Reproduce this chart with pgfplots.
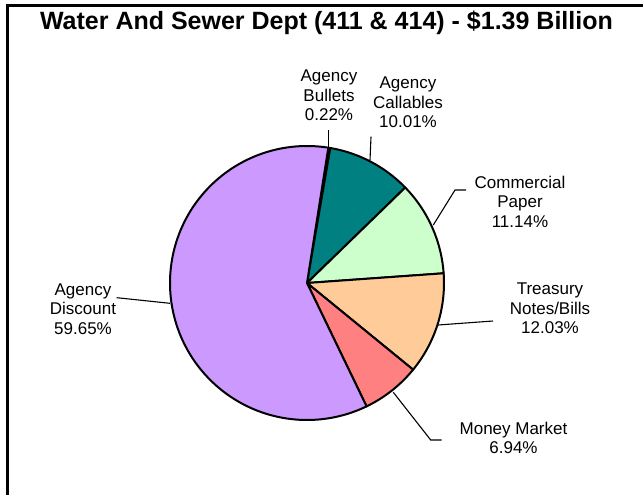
\documentclass[border=0pt]{standalone}
\usepackage{pgfplots}
\pgfplotsset{compat=1.18}
\usepackage{fontspec}
\setmainfont{Liberation Sans}
\definecolor{cDisc}{HTML}{CC99FF}
\definecolor{cCall}{HTML}{008080}
\definecolor{cCP}{HTML}{CCFFCC}
\definecolor{cTreas}{HTML}{FFCC99}
\definecolor{cMM}{HTML}{FF8080}
\definecolor{cBul}{HTML}{000080}
% shares in percent
\def\pBul{0.22}
\def\pCall{10.01}
\def\pCP{11.14}
\def\pTreas{12.03}
\def\pMM{6.94}
\def\pDisc{59.65}
\def\startangle{81}
\begin{document}
\begin{tikzpicture}
\pgfmathsetmacro{\aA}{\startangle}
\pgfmathsetmacro{\aB}{\aA-3.6*\pBul}
\pgfmathsetmacro{\aC}{\aB-3.6*\pCall}
\pgfmathsetmacro{\aD}{\aC-3.6*\pCP}
\pgfmathsetmacro{\aE}{\aD-3.6*\pTreas}
\pgfmathsetmacro{\aF}{\aE-3.6*\pMM}
\pgfmathsetmacro{\aG}{\aF-3.6*\pDisc}
\path[use as bounding box] (0,0) rectangle (643pt,-495pt);
\draw[line width=2.7pt] (643pt,-5.3pt) -- (7.5pt,-5.3pt) -- (7.5pt,-495pt);
\node[anchor=base, font=\fontsize{25}{28}\selectfont\bfseries] at (326.5pt,-29.5pt) {Water And Sewer Dept (411 \& 414) - \$1.39 Billion};
\begin{axis}[hide axis, anchor=origin, at={(307pt,-283pt)}, x=137pt, y=137pt,
  xmin=-1.05, xmax=1.05, ymin=-1.05, ymax=1.05, clip=false]
\addplot[draw=black, line width=2pt, line join=round, fill=cBul, domain=\aB:\aA, samples=5, variable=\t] ({cos(\t)},{sin(\t)}) -- (axis cs:0,0) -- cycle;
\addplot[draw=black, line width=2pt, line join=round, fill=cCall, domain=\aC:\aB, samples=60, variable=\t] ({cos(\t)},{sin(\t)}) -- (axis cs:0,0) -- cycle;
\addplot[draw=black, line width=2pt, line join=round, fill=cCP, domain=\aD:\aC, samples=60, variable=\t] ({cos(\t)},{sin(\t)}) -- (axis cs:0,0) -- cycle;
\addplot[draw=black, line width=2pt, line join=round, fill=cTreas, domain=\aE:\aD, samples=60, variable=\t] ({cos(\t)},{sin(\t)}) -- (axis cs:0,0) -- cycle;
\addplot[draw=black, line width=2pt, line join=round, fill=cMM, domain=\aF:\aE, samples=40, variable=\t] ({cos(\t)},{sin(\t)}) -- (axis cs:0,0) -- cycle;
\addplot[draw=black, line width=2pt, line join=round, fill=cDisc, domain=\aG:\aF, samples=200, variable=\t] ({cos(\t)},{sin(\t)}) -- (axis cs:0,0) -- cycle;
% leader lines
\addplot[black, line width=1.1pt] coordinates {(0.1584,1.1168) (0.1584,0.9854)};
\addplot[black, line width=1.1pt] coordinates {(0.4672,1.0679) (0.4599,0.8978)};
\addplot[black, line width=1.1pt] coordinates {(0.9219,0.4234) (1.0803,0.6788) (1.1606,0.6788)};
\addplot[black, line width=1.1pt] coordinates {(0.9562,-0.3066) (1.3577,-0.2774)};
\addplot[black, line width=1.1pt] coordinates {(0.6299,-0.7978) (0.9029,-1.1460) (0.9832,-1.1460)};
\addplot[black, line width=1.1pt] coordinates {(-1.3891,-0.1073) (-1.0,-0.1482)};
% labels
\tikzset{lbl/.style={align=center, inner sep=0pt, font=\fontsize{17}{19.5}\selectfont}}
\node[lbl] at (axis cs:0.1606,1.3672) {Agency\\Bullets\\0.22\%};
\node[lbl] at (axis cs:0.7372,1.3182) {Agency\\Callables\\10.01\%};
\node[lbl] at (axis cs:1.5547,0.5956) {Commercial\\Paper\\11.14\%};
\node[lbl] at (axis cs:1.7737,-0.1854) {Treasury\\Notes/Bills\\12.03\%};
\node[lbl] at (axis cs:1.5073,-1.1314) {Money Market\\6.94\%};
\node[lbl] at (axis cs:-1.6350,-0.1898) {Agency\\Discount\\59.65\%};
\end{axis}
\end{tikzpicture}
\end{document}
